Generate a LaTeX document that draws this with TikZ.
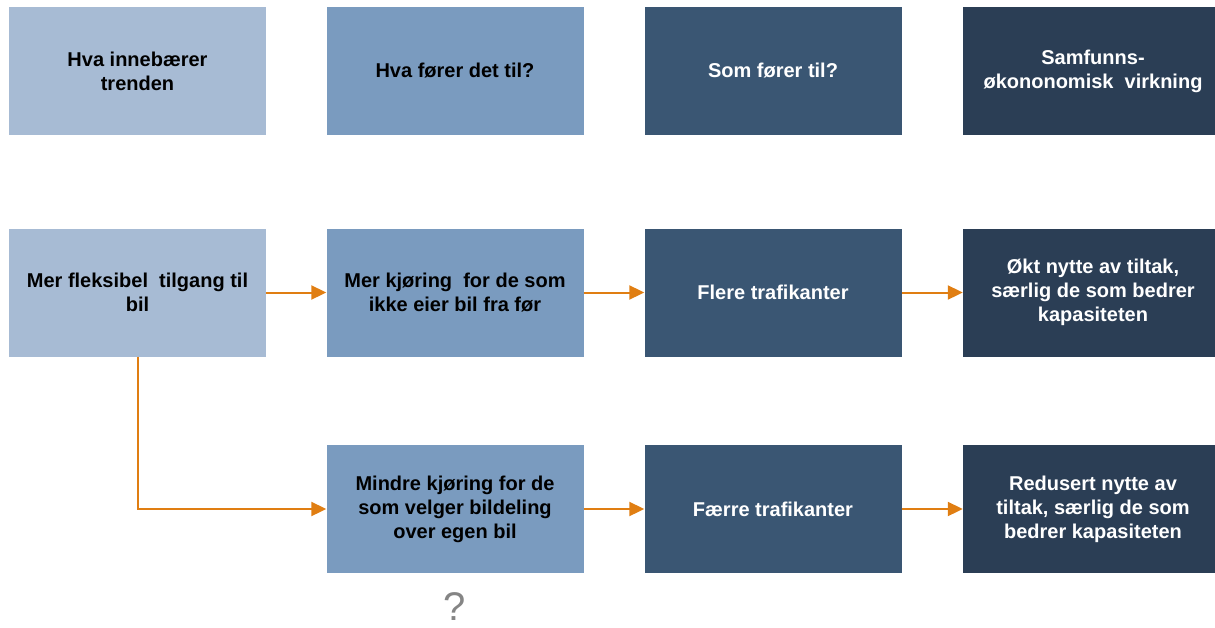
\documentclass[tikz,border=0pt]{standalone}
\usepackage{fontspec}
\setmainfont{Liberation Sans}
\usetikzlibrary{arrows.meta}
\definecolor{boxA}{HTML}{A7BBD4}
\definecolor{boxB}{HTML}{7A9BBF}
\definecolor{boxC}{HTML}{3A5673}
\definecolor{boxD}{HTML}{2B3E55}
\definecolor{flow}{HTML}{E07E12}
\definecolor{qgray}{HTML}{858585}
\tikzset{
  cell/.style={minimum width=257pt, minimum height=128pt, inner sep=0pt,
    align=center, font=\fontsize{20}{24}\selectfont\bfseries},
  cellA/.style={cell, fill=boxA, text=black},
  cellB/.style={cell, fill=boxB, text=black},
  cellC/.style={cell, fill=boxC, text=white},
  cellD/.style={cell, fill=boxD, text=white, minimum width=260pt},
  link/.style={draw=flow, line width=2pt, -{Triangle[length=15pt,width=14pt]}},
}
\begin{document}
\begin{tikzpicture}[x=1pt,y=-1pt]
\useasboundingbox (0,0) rectangle (1215,627);
% header row
\node[cellA] (h1) at (137.5,71) {Hva innebærer\\trenden};
\node[cellB] (h2) at (455,71) {Hva fører det til?};
\node[cellC] (h3) at (773,71) {Som fører til?};
\node[cellD] (h4) at (1093,71) {Samfunns-\\økononomisk\ \ virkning};
% upper chain
\node[cellA] (a1) at (137.5,292.5) {Mer fleksibel\ \ tilgang til\\bil};
\node[cellB] (a2) at (455,292.5) {Mer kjøring\ \ for de som\\ikke eier bil fra før};
\node[cellC] (a3) at (773,292.5) {Flere trafikanter};
\node[cellD] (a4) at (1093,292.5) {Økt nytte av tiltak,\\særlig de som bedrer\\kapasiteten};
% lower chain
\node[cellB] (b2) at (455,509) {Mindre kjøring for de\\som velger bildeling\\over egen bil};
\node[cellC] (b3) at (773,509) {Færre trafikanter};
\node[cellD] (b4) at (1093,509) {Redusert nytte av\\tiltak, særlig de som\\bedrer kapasiteten};
\node[text=qgray, inner sep=1pt, font=\fontsize{40}{44}\selectfont] (q) at (455,607) {?};
% connectors
\draw[link] (a1) -- (a2);
\draw[link] (a2) -- (a3);
\draw[link] (a3) -- (a4);
\draw[link] (b2) -- (b3);
\draw[link] (b3) -- (b4);
\draw[link] (a1.south) |- (b2.west);
\end{tikzpicture}
\end{document}
